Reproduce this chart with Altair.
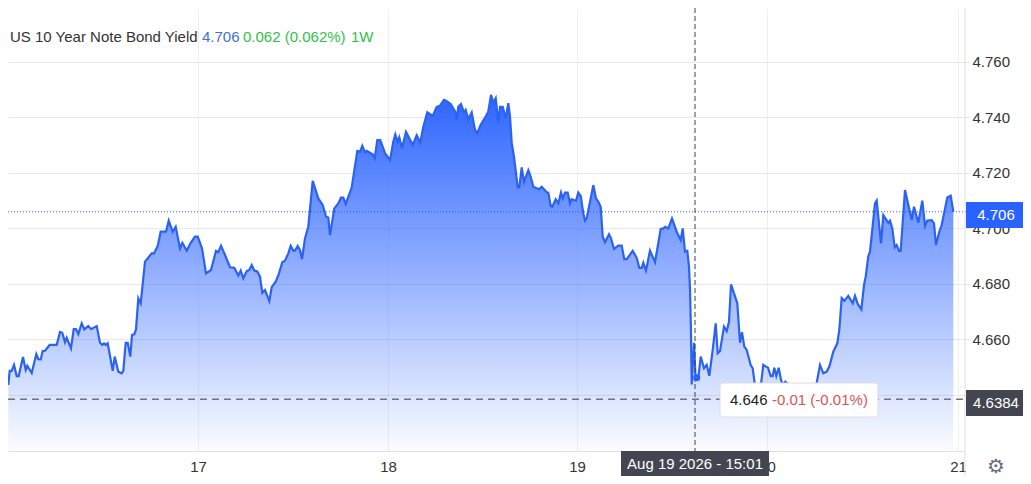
import altair as alt
import pandas as pd

# Position along the time axis (bars since the start of the window) and yield
bars = [0.3,1.7,3.7,6,8.7,10.7,15,17.7,19.3,23.7,28.3,30.3,32.7,34.7,37,41.7,48.7,52,54.3,57,58.7,63,65.7,68,70.3,73.7,76.3,80.3,83,88.7,92,94.3,96,97.7,99.7,104.7,106.7,110.3,113.7,115.3,117.7,119.7,122.3,124,126.3,128,130.3,132.7,137,143.7,146,149.7,152.7,158,160.7,164.7,167.7,172,174.3,178.7,182.7,187,189.7,194,198,203,208,210.3,213,217,222,226.3,230.3,232.7,235.3,238.7,241.3,243.7,246.3,249.3,252,254.3,257,261.3,263.7,268,271,274.3,277,280.3,282.7,285.3,287,289.7,292,294,297,300.3,304.7,310.3,314.7,318,320.3,322,326.3,330.3,333,335.3,337.7,343.7,349.3,352,354.3,357,358.7,364.7,366.7,369.3,372.3,377,382,385.3,387.3,389.7,391.3,394,398,404.7,408.7,412.3,415.3,419.3,424.7,428.7,432,436,438,442.7,447.7,448.7,450.3,453,456,457.7,460.3,463.7,467,469.3,472.7,477.7,480.3,483,485.3,487.7,490.3,492,494.7,497.7,500.3,502,503.7,506,509.7,511.3,513.7,516,520.3,522.7,525.3,531,533.7,538.7,540.3,542.7,544.3,547.7,550.3,553,554.7,557,559.7,562,563.7,568,570.3,572.7,575.3,577,578.7,585.3,588,590.3,592.7,594.7,597,601,603,606,610.3,613.7,616.3,618.7,624.7,628.7,631.3,633.7,635.3,638,642,647,652.7,655.3,657.3,660.3,664,668.7,672.7,674.7,677,679.3,681,682,683,683.7,686,687.7,690.3,692.7,696,698.7,701.3,704.7,707.7,709.7,712,716,718.7,721,723,729.3,732,734,736.3,738.7,742.7,744.7,746.7,749.5,753,755.3,758,760,762.7,764.7,766.3,768.3,770.7,773,774.7,777.3,778.7,787,797,808.7,812,815.3,818.7,821.3,825.3,829.3,831.3,833.7,836.3,840.3,844.7,847,849.7,853.4,856,857.7,860.3,862,867,868.7,873,875.3,880.3,882,884.3,886.7,888.7,891,892.7,897,903.7,906,910.3,914.3,917,919.3,923.7,926,928,931.3,933.7,939.3,942.7,945.3]
yields = [4.6436,4.6487,4.6487,4.6508,4.6468,4.6468,4.6537,4.6490,4.6505,4.6479,4.6547,4.6529,4.6528,4.6558,4.6559,4.6580,4.6580,4.6627,4.6624,4.6590,4.6606,4.6568,4.6637,4.6637,4.6619,4.6658,4.6636,4.6648,4.6637,4.6648,4.6588,4.6580,4.6586,4.6580,4.6586,4.6487,4.6538,4.6484,4.6478,4.6487,4.6588,4.6588,4.6538,4.6616,4.6618,4.6636,4.6748,4.6730,4.6880,4.6910,4.6910,4.6937,4.6988,4.6988,4.7028,4.6988,4.7006,4.6928,4.6948,4.6920,4.6948,4.6970,4.6970,4.6928,4.6838,4.6850,4.6919,4.6914,4.6937,4.6904,4.6860,4.6858,4.6830,4.6848,4.6820,4.6846,4.6850,4.6868,4.6848,4.6845,4.6826,4.6768,4.6778,4.6738,4.6788,4.6810,4.6838,4.6878,4.6884,4.6910,4.6937,4.6920,4.6920,4.6937,4.6922,4.6889,4.6964,4.7006,4.7171,4.7108,4.7084,4.7042,4.7039,4.6976,4.7072,4.7090,4.7111,4.7111,4.7088,4.7147,4.7279,4.7276,4.7298,4.7274,4.7279,4.7267,4.7253,4.7318,4.7318,4.7271,4.7246,4.7312,4.7339,4.7312,4.7328,4.7289,4.7348,4.7301,4.7336,4.7309,4.7366,4.7418,4.7405,4.7438,4.7442,4.7463,4.7460,4.7448,4.7417,4.7391,4.7438,4.7448,4.7417,4.7427,4.7393,4.7418,4.7355,4.7343,4.7373,4.7403,4.7421,4.7481,4.7453,4.7469,4.7379,4.7438,4.7438,4.7397,4.7451,4.7403,4.7308,4.7258,4.7148,4.7148,4.7220,4.7168,4.7210,4.7186,4.7150,4.7141,4.7150,4.7130,4.7129,4.7081,4.7078,4.7105,4.7090,4.7129,4.7108,4.7129,4.7129,4.7090,4.7105,4.7099,4.7129,4.7117,4.7054,4.7028,4.7036,4.7156,4.7108,4.7096,4.7078,4.6970,4.6950,4.6979,4.6964,4.6926,4.6938,4.6938,4.6889,4.6889,4.6919,4.6894,4.6858,4.6858,4.6876,4.6848,4.6920,4.6878,4.6998,4.7000,4.7006,4.7000,4.7036,4.6988,4.6958,4.7000,4.6916,4.6919,4.6862,4.6781,4.6623,4.6438,4.6588,4.6454,4.6460,4.6538,4.6496,4.6508,4.6469,4.6562,4.6658,4.6550,4.6558,4.6646,4.6630,4.6664,4.6798,4.6730,4.6588,4.6626,4.6574,4.6562,4.6508,4.6496,4.6442,4.6410,4.6439,4.6508,4.6502,4.6498,4.6468,4.6468,4.6498,4.6468,4.6498,4.6454,4.6436,4.6448,4.6443,4.6425,4.6403,4.6443,4.6508,4.6478,4.6484,4.6502,4.6556,4.6586,4.6634,4.6749,4.6739,4.6757,4.6730,4.6757,4.6728,4.6708,4.6796,4.6826,4.6900,4.6916,4.7090,4.7100,4.6946,4.7048,4.7020,4.7028,4.7000,4.6932,4.6940,4.6919,4.6919,4.7138,4.7030,4.7078,4.7020,4.7100,4.7009,4.7028,4.7030,4.7018,4.6940,4.6988,4.7012,4.7111,4.7118,4.7060]
n = min(len(bars), len(yields))
df = pd.DataFrame({"bar": bars[:n], "yield": yields[:n]})

x_ticks = [190, 380, 569, 759, 950]
x_labels = ["17", "18", "19", "20", "21"]
y_ticks = [4.64, 4.66, 4.68, 4.70, 4.72, 4.74, 4.76]
last_price = 4.706
cursor_price = 4.6384
cursor_bar = 687
hover_bar = 688.7
hover_yield = 4.6462

Y_MIN, Y_MAX = 4.6198, 4.7794
BLUE = "#2962ff"
DARK = "#434651"
FONT = "Liberation Sans"
FS = 15

xs = alt.Scale(domain=[0, 957], nice=False, zero=False)
ys = alt.Scale(domain=[Y_MIN, Y_MAX], nice=False, zero=False)

label_expr = "{" + ",".join(f"'{t}':'{l}'" for t, l in zip(x_ticks, x_labels)) + "}[datum.value]"
x_enc = alt.X("bar:Q", scale=xs, axis=alt.Axis(
    orient="bottom", values=x_ticks, labelExpr=label_expr, title=None, grid=True,
    gridColor="#f0f0f3", ticks=False, domainColor="#e0e0e0", labelFont=FONT, labelFontSize=FS,
    labelColor="#333333", labelPadding=8, labelFlush=False, labelOverlap=False))
y_enc = alt.Y("yield:Q", scale=ys, axis=alt.Axis(
    orient="right", values=y_ticks, format=".3f", title=None, grid=True, gridColor="#e8e8e8",
    tickColor="#e8e8e8", tickSize=5, domain=False, labelFont=FONT, labelFontSize=FS,
    labelColor="#333333", labelPadding=2, labelOverlap=False))

area = alt.Chart(df).mark_area(
    interpolate="linear",
    color=alt.Gradient(gradient="linear", x1=1, x2=1, y1=0, y2=1, stops=[
        alt.GradientStop(color="rgba(41,98,255,0.98)", offset=0),
        alt.GradientStop(color="rgba(41,98,255,0.02)", offset=1)]),
).encode(x=x_enc, y=y_enc, y2=alt.Y2(datum=Y_MIN))

line = alt.Chart(df).mark_line(color="#2b63f0", strokeWidth=2.2, interpolate="linear").encode(
    x=alt.X("bar:Q", scale=xs), y=alt.Y("yield:Q", scale=ys))

def rect(x0, x1, y0, y1, fill, **kw):
    return alt.Chart().mark_rect(fill=fill, **kw).encode(
        x=alt.value(x0), x2=alt.value(x1), y=alt.value(y0), y2=alt.value(y1))

def rule(x0, x1, y0, y1, color, **kw):
    return alt.Chart().mark_rule(color=color, **kw).encode(
        x=alt.value(x0), x2=alt.value(x1), y=alt.value(y0), y2=alt.value(y1))

def text(x, y, s, color, align="left", size=FS, font=FONT):
    return alt.Chart().mark_text(align=align, baseline="middle", font=font, fontSize=size, color=color).encode(
        x=alt.value(x), y=alt.value(y), text=alt.value(s))

last_rule = alt.Chart(pd.DataFrame({"v": [last_price]})).mark_rule(
    color=BLUE, strokeDash=[1, 2], strokeWidth=1).encode(
    y=alt.Y("v:Q", scale=ys), x=alt.value(0), x2=alt.value(958))
cursor_rule = alt.Chart(pd.DataFrame({"v": [cursor_price]})).mark_rule(
    color="#6f7280", strokeDash=[7, 5], strokeWidth=1.5).encode(
    y=alt.Y("v:Q", scale=ys), x=alt.value(0), x2=alt.value(957))
cross_v = alt.Chart(pd.DataFrame({"b": [cursor_bar]})).mark_rule(
    color="#40434f", strokeDash=[5, 3], strokeWidth=1).encode(
    x=alt.X("b:Q", scale=xs), y=alt.value(0), y2=alt.value(443))
dot = alt.Chart(pd.DataFrame({"b": [hover_bar], "v": [hover_yield]})).mark_circle(
    color=BLUE, opacity=1, size=50).encode(
    x=alt.X("b:Q", scale=xs), y=alt.Y("v:Q", scale=ys))

layers = [
    area, line, last_rule, cursor_rule, cross_v, dot,
    rule(957, 957, 0, 468, "#e0e0e0"),
    rect(958, 1015, 444, 468, "#ffffff"),
    # legend line
    text(2, 29, "US 10 Year Note Bond Yield", "#333333"),
    text(194, 29, "4.706", "#3f6fe0"),
    text(235, 29, "0.062 (0.062%)", "#2fc24a"),
    text(343, 29, "1W", "#2fc24a"),
    # hover tooltip
    rect(712, 870, 375, 409, "#ffffff", stroke="#dddddd", strokeWidth=1, cornerRadius=3),
    text(722, 392, "4.646", "#222222"),
    text(764, 392, "-0.01 (-0.01%)", "#e05252"),
    # price tags
    rect(958, 1015, 194, 220, BLUE),
    text(988, 207, "4.706", "#ffffff", align="center"),
    rect(958, 1015, 382, 408, DARK),
    text(988, 395, "4.6384", "#ffffff", align="center"),
    # time tag
    rect(613, 761, 443, 468, DARK),
    text(687, 456, "Aug 19 2026 - 15:01", "#ffffff", align="center"),
    # settings glyph
    text(988, 459, "\u2699", "#6a6d78", align="center", size=20, font="DejaVu Sans"),
]

chart = alt.layer(*layers).properties(
    width=957, height=443,
    padding={"left": 0, "top": 0, "right": 58, "bottom": 25},
    autosize=alt.AutoSizeParams(type="none"),
    background="#ffffff",
).configure_view(stroke=None)

chart.save("out.html", embed_options={"renderer": "svg", "actions": False})
